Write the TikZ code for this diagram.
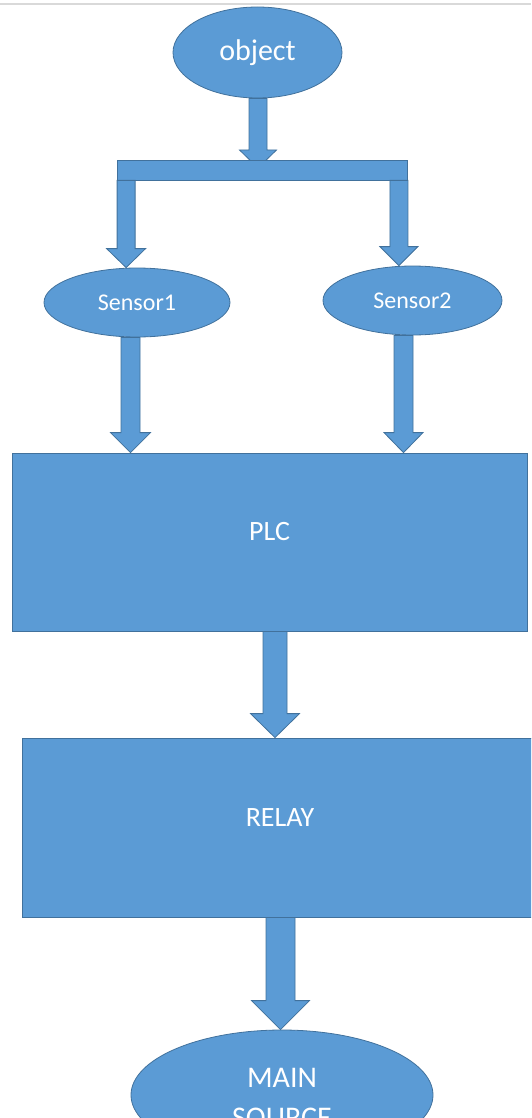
\documentclass[tikz,border=0pt]{standalone}
\usepackage{fontspec}
\setmainfont{Carlito}
\usetikzlibrary{shapes.geometric,calc}

\definecolor{boxblue}{HTML}{5B9BD5}
\definecolor{edgeblue}{HTML}{41719C}

\tikzset{
  blockfill/.style={fill=boxblue,draw=edgeblue,line width=0.8pt},
  oval/.style={blockfill,ellipse,inner sep=0pt,text=white},
  plate/.style={blockfill,rectangle,inner sep=0pt},
  lbl/.style={text=white,inner sep=0pt},
  fatarrow/.style={blockfill,line join=miter}
}

% #1 start, #2 tip, #3 half shaft, #4 half head, #5 head length
\newcommand{\fatarrow}[5]{%
  \path[fatarrow] let \p1=(#1), \p2=(#2) in
    (\x1-#3pt,\y1) -- (\x1-#3pt,\y2+#5pt) -- (\x1-#4pt,\y2+#5pt) -- (\x1,\y2)
    -- (\x1+#4pt,\y2+#5pt) -- (\x1+#3pt,\y2+#5pt) -- (\x1+#3pt,\y1) -- cycle;}

\begin{document}
\begin{tikzpicture}[x=1pt,y=-1pt]
\useasboundingbox (0,0) rectangle (531,1118);
\clip (0,0) rectangle (531,1118);
\draw[color=black!15,line width=2pt] (0,4) -- (531,4);

% shapes
\node[oval,minimum width=169,minimum height=91,font=\fontsize{30}{36}\selectfont] (object) at (257.5,52.5) {object};
\node[oval,minimum width=186,minimum height=69,font=\fontsize{24}{29}\selectfont] (s1) at (137,302.5) {Sensor1};
\node[oval,minimum width=179,minimum height=69,font=\fontsize{24}{29}\selectfont] (s2) at (412.5,300.5) {Sensor2};
\node[plate,minimum width=515,minimum height=178] (plc) at (269.5,542) {};
\node[plate,minimum width=516,minimum height=179] (relay) at (280,827.5) {};
\node[oval,minimum width=302,minimum height=130] (main) at (282,1095) {};

\node[lbl,font=\fontsize{28}{34}\selectfont] (plctxt) at ([yshift=10pt]plc.center) {PLC};
\node[lbl,font=\fontsize{28}{34}\selectfont] (relaytxt) at ([yshift=10pt]relay.center) {RELAY};
\node[lbl,align=center,font=\fontsize{30}{40}\selectfont] (maintxt) at (282,1098) {MAIN\\SOURCE};

% object into the split bar
\coordinate (objout) at ([xshift=0.5pt]object.south);
\fatarrow{objout}{objout |- 0,168}{9}{18.5}{18}
\node[plate,minimum width=290,minimum height=20] (split) at (262,170) {};

% split bar to the sensors
\coordinate (legl) at ([xshift=9.5pt]split.south west);
\coordinate (legr) at ([xshift=-8.5pt]split.south east);
\fatarrow{legl}{legl |- s1.north}{9}{19.5}{19}
\fatarrow{legr}{legr |- s2.north}{9}{19}{19}

% sensors to PLC
\coordinate (s1out) at ([xshift=-6.5pt]s1.south);
\coordinate (s2out) at ([xshift=-9pt]s2.south);
\fatarrow{s1out}{s1out |- plc.north}{9.5}{20}{20}
\fatarrow{s2out}{s2out |- plc.north}{9.5}{19.5}{20}

% PLC to RELAY to MAIN SOURCE
\coordinate (plcout) at ([xshift=5.5pt]plc.south);
\coordinate (relayout) at ([xshift=0.5pt]relay.south);
\fatarrow{plcout}{plcout |- relay.north}{12}{24.5}{24}
\fatarrow{relayout}{relayout |- main.north}{14.5}{29}{29}
\end{tikzpicture}
\end{document}
